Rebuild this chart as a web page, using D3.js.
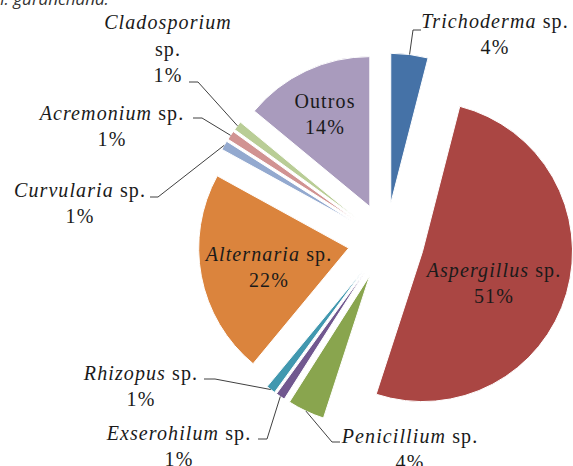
<!DOCTYPE html>
<html>
<head>
<meta charset="utf-8">
<script src="https://cdn.jsdelivr.net/npm/d3@7"></script>
<style>
  body { margin: 0; background: #fff; }
  svg { display: block; }
</style>
</head>
<body>
<div id="chart"></div>
<script>
// Data (clockwise from 12 o'clock)
const categories = ["Trichoderma", "Aspergillus", "Penicillium", "Exserohilum", "Rhizopus",
  "Alternaria", "Curvularia", "Acremonium", "Cladosporium", "Outros"];
const values = [4, 51, 4, 1, 1, 22, 1, 1, 1, 14];
const isGenus = [true, true, true, true, true, true, true, true, true, false];
const colors = ["#4572A7", "#AA4643", "#89A54E", "#71588F", "#4198AF",
  "#DB843D", "#93A9CF", "#D19392", "#B9CD96", "#A99BBD"];

// label layout: centre x, first baseline, leader elbow + end (null = label inside)
const labelLayout = [
  { x: 495, y: 28, split: false, leader: [[413, 30], [421, 30]] },
  { x: 494, y: 277, split: false, leader: null },
  { x: 410, y: 443, split: false, leader: [[332, 442], [340, 442]] },
  { x: 179, y: 440, split: false, leader: [[267, 439], [258, 439]] },
  { x: 141, y: 380, split: false, leader: [[215, 379], [204, 379]] },
  { x: 269, y: 261, split: false, leader: null },
  { x: 80, y: 197, split: false, leader: [[158, 197], [150, 197]] },
  { x: 112, y: 120, split: false, leader: [[202, 118], [193, 118]] },
  { x: 168, y: 29, split: true, leader: [[198, 82], [189, 82]] },
  { x: 325, y: 108, split: false, leader: null }
];

const w = 573;
const h = 466;
const cx = 386, cy = 241;
const radius = 150;
const explode = 38;
const lineH = 26;

const svg = d3.select("#chart")
  .append("svg")
  .attr("width", w)
  .attr("height", h);

// caption fragment cut off at the top
svg.append("text")
  .attr("x", 0)
  .attr("y", 5)
  .attr("font-family", "'Open Sans', sans-serif")
  .attr("font-style", "italic")
  .attr("font-size", 17)
  .attr("fill", "#333")
  .text("I. guranchana.");

const pie = d3.pie().sort(null).value(d => d).startAngle(0).endAngle(2 * Math.PI);
const arc = d3.arc().innerRadius(0).outerRadius(radius);
const arcs = pie(values);

arcs.forEach((d, i) => {
  const mid = (d.startAngle + d.endAngle) / 2;
  d.ox = cx + explode * Math.sin(mid);
  d.oy = cy - explode * Math.cos(mid);
  d.edge = [d.ox + radius * Math.sin(mid), d.oy - radius * Math.cos(mid)];
});

svg.append("g")
  .selectAll("path")
  .data(arcs)
  .enter()
  .append("path")
  .attr("transform", d => `translate(${d.ox},${d.oy})`)
  .attr("d", arc)
  .attr("fill", (d, i) => colors[i])
  .attr("stroke", "#fff")
  .attr("stroke-width", 1);

// leader lines
const line = d3.line();
svg.append("g")
  .selectAll("path")
  .data(arcs.filter((d, i) => labelLayout[i].leader))
  .enter()
  .append("path")
  .attr("d", d => line([d.edge].concat(labelLayout[d.index].leader)))
  .attr("fill", "none")
  .attr("stroke", "#404040")
  .attr("stroke-width", 1);

// labels
const labels = svg.append("g")
  .attr("font-family", "'Liberation Serif', 'Times New Roman', serif")
  .attr("font-size", 20)
  .attr("letter-spacing", 1.1)
  .attr("fill", "#1a1a1a")
  .attr("text-anchor", "middle");

categories.forEach((name, i) => {
  const L = labelLayout[i];
  const t = labels.append("text").attr("x", L.x).attr("y", L.y);
  const pct = values[i] + "%";
  if (!isGenus[i]) {
    t.append("tspan").attr("x", L.x).attr("dy", 0).text(name);
    t.append("tspan").attr("x", L.x).attr("dy", lineH).text(pct);
    return;
  }
  t.append("tspan").attr("x", L.x).attr("dy", 0).attr("font-style", "italic").text(name);
  if (L.split) {
    t.append("tspan").attr("x", L.x).attr("dy", lineH + 1).text("sp.");
  } else {
    t.append("tspan").text(" sp.");
  }
  t.append("tspan").attr("x", L.x).attr("dy", lineH).text(pct);
});
</script>
</body>
</html>
